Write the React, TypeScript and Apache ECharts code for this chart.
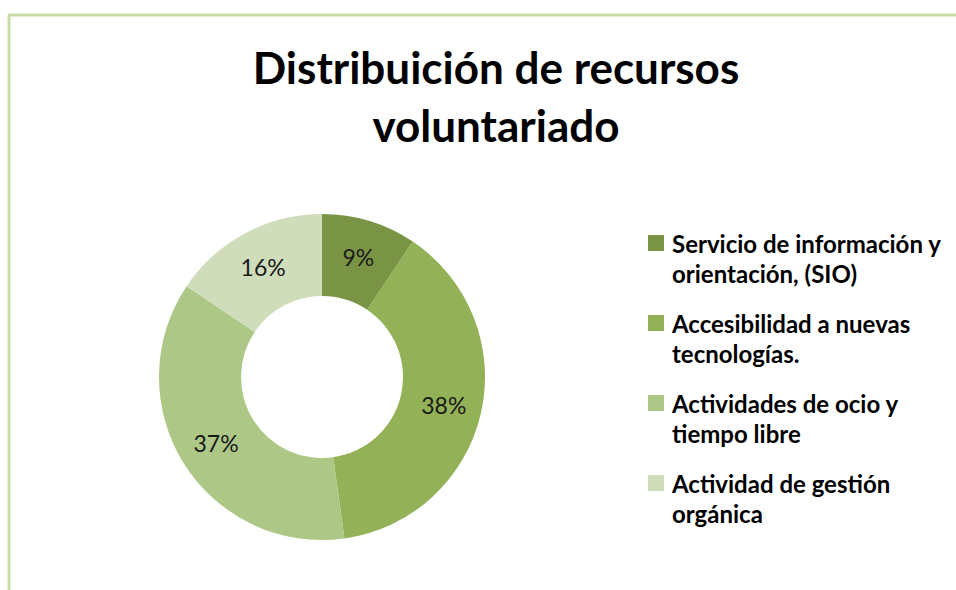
import React, { useEffect, useRef } from "react";
import * as echarts from "echarts";

const titleText = "Distribuición de recursos\nvoluntariado";
const categories = [
  "Servicio de información y\norientación, (SIO)",
  "Accesibilidad a nuevas\ntecnologías.",
  "Actividades de ocio y\ntiempo libre",
  "Actividad de gestión\norgánica",
];
const values = [9.4, 38.4, 36.6, 15.6];
const colors = ["#7a9446", "#93b156", "#adc787", "#cfddba"];

export default function App() {
  const ref = useRef<HTMLDivElement>(null);
  useEffect(() => {
    if (!ref.current) return;
    const chart = echarts.init(ref.current, null, { renderer: "svg" });
    const font = "Lato, 'Open Sans', sans-serif";
    const legendGraphics: any[] = [];
    categories.forEach((c, i) => {
      const top = 234 + i * 80;
      legendGraphics.push({
        type: "rect",
        shape: { x: 648, y: top + 1, width: 16, height: 16 },
        style: { fill: colors[i] },
      });
      legendGraphics.push({
        type: "text",
        x: 672,
        y: top - 6,
        style: {
          text: c,
          font: `bold 24px ${font}`,
          fill: "#000",
          lineHeight: 30,
          verticalAlign: "top",
        },
      });
    });
    chart.setOption({
      animation: false,
      backgroundColor: "#ffffff",
      title: {
        text: titleText,
        left: 491,
        top: 33,
        textAlign: "center",
        textStyle: {
          fontFamily: font,
          fontWeight: "bold",
          fontSize: 44,
          lineHeight: 58,
          color: "#000",
        },
      },
      graphic: [
        { type: "line", shape: { x1: 8, y1: 15, x2: 956, y2: 15 }, style: { stroke: "#c8dba6", lineWidth: 3 } },
        { type: "line", shape: { x1: 9, y1: 15, x2: 9, y2: 590 }, style: { stroke: "#c8dba6", lineWidth: 3 } },
        ...legendGraphics,
      ],
      series: [
        {
          type: "pie",
          center: [322, 377],
          radius: [81, 163],
          startAngle: 90,
          clockwise: true,
          avoidLabelOverlap: false,
          label: {
            show: true,
            position: "inside",
            formatter: (p: any) => Math.round(p.percent) + "%",
            fontFamily: font,
            fontSize: 23,
            color: "#1a1a1a",
          },
          labelLine: { show: false },
          emphasis: { disabled: true },
          data: categories.map((c, i) => ({
            name: c,
            value: values[i],
            itemStyle: { color: colors[i] },
          })),
        },
      ],
    });
    return () => chart.dispose();
  }, []);
  return <div ref={ref} style={{ width: 956, height: 590, position: "absolute", left: 0, top: 0 }} />;
}
